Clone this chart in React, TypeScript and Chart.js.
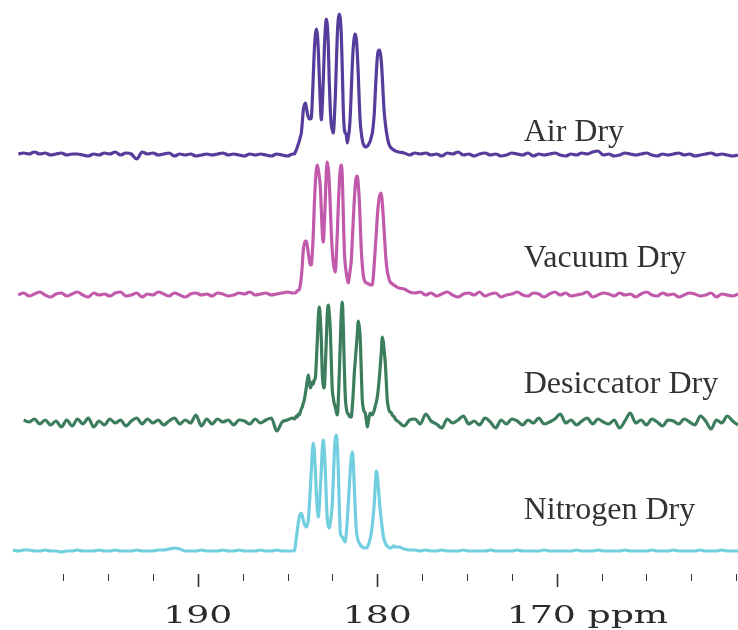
import React, { useEffect, useRef } from 'react';
import { Chart, registerables } from 'chart.js';

Chart.register(...registerables);

// ---- Series metadata ----
const seriesNames = ['Air Dry', 'Vacuum Dry', 'Desiccator Dry', 'Nitrogen Dry'];
const seriesColors = ['#563d9c', '#c25aab', '#3b7d5d', '#72cfe0'];
// vertical offsets of each trace baseline (plot units)
const seriesOffsets = [415, 275, 148, 19];
// label anchors (ppm, plot units)
const labelPpm = 171.84;
const labelLevels = [429, 303, 177, 51];

// ---- Axis ticks ----
const tickValues = [197.5, 195, 192.5, 190, 187.5, 185, 182.5, 180, 177.5, 175, 172.5, 170, 167.5, 165, 162.5, 160];
const majorTickValues = [190, 180, 170];
const tickLabels = ['190', '180', '170'];
const unitLabel = 'ppm';

// ---- Sampling (ppm): baseline regions step 0.3, peak region step 0.0557 ----
const leftStart = 200.3;
const rightStart = 178.8;
const gridStep = 0.3;
const peakStart = 184.62;
const peakStep = 0.0557;

// ---- Air Dry ----
const airLeft = [null, 1, 2, 1, 3, 1, 2, 0, 1, 2, 0, 1, 1, 0, -1, 1, 0, 2, 1, 3, 0, 2, 1, -4, 3, 1, 2, 0, 1, 2, -1, 1, 0, 1, -1, 0, 1, 0, 1, 2, 0, 1, 0, -1, 1, 0, 1, 0, -1, 1, 0, -1, 1];
const airPeak = [1, 3, 5, 8, 11, 14, 18, 22, 33, 45, 50, 52, 48, 42, 38, 36, 36, 37, 55, 80, 105, 120, 126, 121, 105, 78, 52, 35, 50, 75, 105, 126, 136, 130, 110, 72, 45, 30, 25, 22, 35, 58, 90, 120, 136, 141, 136, 120, 85, 45, 26, 22, 20, 12, 18, 25, 40, 65, 90, 108, 118, 121, 116, 102, 80, 52, 32, 22, 15, 11, 9, 8, 8, 9, 10, 12, 14, 18, 22, 30, 42, 62, 82, 97, 104, 105, 102, 94, 78, 58, 42, 32, 24, 18, 13, 10, 8, 7, 6, 5, 5, 4];
const airRight = [3, 2, 0, 2, 1, 2, 0, 1, -1, 2, 1, 3, 0, 1, -1, 1, 2, 0, 1, -1, 0, 2, 1, 0, 2, -1, 1, 0, 1, 2, 0, -1, 1, 0, 2, 1, 3, 4, 0, 1, -1, 0, 2, 1, 0, 1, 2, 0, -1, 1, 0, 1, 2, 0, 1, -1, 0, 1, 2, 0, 1, 0, -1, 0];

// ---- Vacuum Dry ----
const vacLeft = [null, 0, 2, -1, 1, 3, 0, -2, 1, 2, -1, 1, 3, 0, -2, 2, 0, 1, -1, 2, 3, -1, 0, 2, -2, 1, 0, 3, 1, -1, 2, 0, -2, 1, 2, 0, 1, -1, 2, 1, -1, 0, 2, 1, 3, 0, 1, 2, 0, 1, 2, 3, 2];
const vacPeak = [2, 2, 3, 4, 5, 5, 10, 18, 30, 45, 51, 54, 54, 49, 42, 35, 30, 30, 42, 62, 90, 112, 125, 130, 125, 118, 108, 85, 62, 53, 70, 95, 122, 133, 126, 112, 88, 62, 44, 32, 26, 23, 38, 62, 90, 112, 126, 130, 118, 80, 45, 30, 22, 16, 12, 18, 26, 35, 55, 76, 95, 110, 118, 119, 110, 95, 70, 45, 30, 20, 15, 13, 12, 12, 11, 11, 10, 10, 10, 18, 32, 47, 62, 78, 90, 98, 101, 102, 92, 78, 62, 45, 32, 24, 19, 15, 13, 12, 11, 10, 10, 9];
const vacRight = [7, 6, 3, 2, 3, 0, 2, -1, 1, 3, 0, -2, 1, 2, 0, 3, -1, 1, 2, -2, 0, 1, 3, 0, -1, 2, 1, -2, 1, 3, 0, 2, -1, 0, 1, 3, -2, 0, 2, 1, -1, 2, 0, 1, -2, 1, 3, 0, -1, 2, 0, 1, -2, 0, 2, 1, -1, 0, 2, -2, 1, 0, -1, 1];

// ---- Desiccator Dry ----
const desLeft = [null, null, 2, 0, 3, -2, 2, -3, 1, -5, 2, -4, 3, -2, 4, -5, 1, -3, 3, -1, 2, -4, 1, 4, -2, 3, -1, 2, -3, 1, 4, -2, 2, -1, 7, -4, 3, -2, 3, 0, 2, -3, 2, 1, -2, 3, -1, 2, 4, -9, 0, 2, 4];
const desPeak = [3, 4, 6, 5, 8, 7, 10, 13, 15, 19, 22, 28, 35, 42, 47, 40, 34, 36, 40, 38, 42, 44, 60, 82, 105, 115, 104, 82, 48, 36, 34, 55, 82, 108, 117, 108, 92, 60, 32, 24, 18, 15, 10, 7, 22, 49, 80, 108, 120, 95, 55, 25, 14, 9, 8, 6, 5, 5, 15, 30, 49, 62, 75, 88, 101, 95, 82, 50, 22, 14, 10, 9, 2, -5, 0, 6, 9, 8, 7, 9, 12, 16, 20, 25, 33, 44, 56, 70, 85, 80, 70, 59, 40, 22, 15, 11, 10, 9, 7, 6, 5, 3];
const desRight = [0, -4, 2, 3, -2, 8, 1, -2, -6, 3, -1, 2, 6, -2, 1, -3, 4, 0, -6, 2, -2, 3, 1, -3, 2, -1, 4, -2, 0, 3, 8, -1, 2, -3, 1, 4, -2, 3, 0, -2, 2, -6, 1, 9, -1, 2, -3, 3, 0, -4, 2, 1, -2, 3, 0, -3, 6, 1, -7, 2, -1, 6, 1, -3];

// ---- Nitrogen Dry ----
const nitLeft = [1, 0, 1, 1, 0, 0, 1, 0, 0, -1, 0, 0, 1, 0, 0, 0, 1, 0, 0, 1, 0, 0, 0, 1, 0, 0, 0, 1, 1, 2, 3, 2, 0, 0, 0, 1, 0, 0, 0, 1, 0, 0, 1, 0, 0, 0, 1, 0, 0, 1, 0, 0, 0];
const nitPeak = [0, 5, 13, 21, 28, 34, 37, 38, 35, 31, 27, 25, 24, 26, 31, 45, 62, 81, 100, 108, 100, 81, 58, 41, 34, 45, 62, 81, 102, 111, 100, 81, 52, 31, 25, 23, 28, 36, 48, 72, 98, 112, 116, 105, 81, 45, 18, 15, 14, 12, 10, 9, 18, 31, 48, 65, 81, 94, 99, 88, 64, 40, 21, 14, 10, 8, 6, 5, 4, 3, 3, 3, 3, 4, 6, 9, 13, 18, 26, 36, 48, 66, 80, 76, 64, 52, 40, 31, 22, 15, 11, 8, 6, 5, 4, 3, 3, 3, 4, 5, 5, 4];
const nitRight = [4, 2, 1, 1, 0, 1, 0, 0, 1, 0, 0, 0, 1, 0, 0, 0, 0, 1, 0, 0, 0, 0, 1, 0, 0, 0, 0, 1, 0, 0, 0, 0, 0, 1, 0, 0, 0, 1, 0, 0, 0, 0, 1, 0, 0, 0, 0, 1, 0, 0, 0, 1, 0, 0, 0, 0, 1, 0, 0, 0, 1, 0, 0, 0];

const traces = [
  { left: airLeft, peak: airPeak, right: airRight },
  { left: vacLeft, peak: vacPeak, right: vacRight },
  { left: desLeft, peak: desPeak, right: desRight },
  { left: nitLeft, peak: nitPeak, right: nitRight },
];

function buildPoints(t: any, offset: number) {
  const pts: { x: number; y: number | null }[] = [];
  t.left.forEach((v: number | null, i: number) =>
    pts.push({ x: leftStart - gridStep * i, y: v == null ? null : offset + v })
  );
  t.peak.forEach((v: number, k: number) => pts.push({ x: peakStart - peakStep * k, y: offset + v }));
  t.right.forEach((v: number | null, i: number) =>
    pts.push({ x: rightStart - gridStep * i, y: v == null ? null : offset + v })
  );
  return pts;
}

const decorPlugin = {
  id: 'decor',
  afterDraw(chart: any) {
    const ctx = chart.ctx as CanvasRenderingContext2D;
    const xs = chart.scales.x;
    const ys = chart.scales.y;
    const top = chart.chartArea.bottom + 4;
    ctx.save();
    ctx.strokeStyle = '#333';
    tickValues.forEach((v) => {
      const major = majorTickValues.includes(v);
      const px = Math.round(xs.getPixelForValue(v)) + 0.5;
      ctx.lineWidth = major ? 1.6 : 1;
      ctx.beginPath();
      ctx.moveTo(px, top);
      ctx.lineTo(px, top + (major ? 13 : 7));
      ctx.stroke();
    });
    // tick labels (wide serif)
    ctx.fillStyle = '#2b2b2b';
    ctx.font = '25px "DejaVu Serif"';
    ctx.textBaseline = 'alphabetic';
    const base = top + 49;
    const sx = 1.45;
    majorTickValues.forEach((v, i) => {
      const px = xs.getPixelForValue(v);
      ctx.save();
      if (i < majorTickValues.length - 1) {
        ctx.translate(px, base);
        ctx.scale(sx, 1);
        ctx.textAlign = 'center';
        ctx.fillText(tickLabels[i], 0, 0);
      } else {
        ctx.translate(px - 50, base);
        ctx.scale(sx, 1);
        ctx.textAlign = 'left';
        ctx.fillText(tickLabels[i] + ' ' + unitLabel, 0, 0);
      }
      ctx.restore();
    });
    // series labels
    ctx.font = '32px "Liberation Serif"';
    ctx.fillStyle = '#333';
    ctx.textAlign = 'left';
    seriesNames.forEach((name, i) => {
      ctx.fillText(name, xs.getPixelForValue(labelPpm), ys.getPixelForValue(labelLevels[i]));
    });
    ctx.restore();
  },
};

export default function App() {
  const ref = useRef<HTMLCanvasElement>(null);
  useEffect(() => {
    document.body.style.margin = '0';
    if (!ref.current) return;
    const chart = new Chart(ref.current, {
      type: 'line',
      data: {
        datasets: traces.map((t, i) => ({
          label: seriesNames[i],
          data: buildPoints(t, seriesOffsets[i]),
          borderColor: seriesColors[i],
          borderWidth: 3.2,
          pointRadius: 0,
          fill: false,
          cubicInterpolationMode: 'monotone' as const,
          spanGaps: false,
          borderJoinStyle: 'round' as const,
        })),
      },
      options: {
        responsive: false,
        animation: false,
        devicePixelRatio: 1,
        layout: { padding: { left: 12, right: 0, top: 0, bottom: 60 } },
        plugins: { legend: { display: false }, tooltip: { enabled: false } },
        scales: {
          x: { type: 'linear', reverse: true, min: 159.9, max: 200.35, display: false },
          y: { type: 'linear', min: 0, max: 570, display: false },
        },
      },
      plugins: [decorPlugin],
    });
    return () => chart.destroy();
  }, []);
  return (
    <div style={{ width: 738, height: 630 }}>
      <canvas ref={ref} width={738} height={630} style={{ display: 'block' }} />
    </div>
  );
}
